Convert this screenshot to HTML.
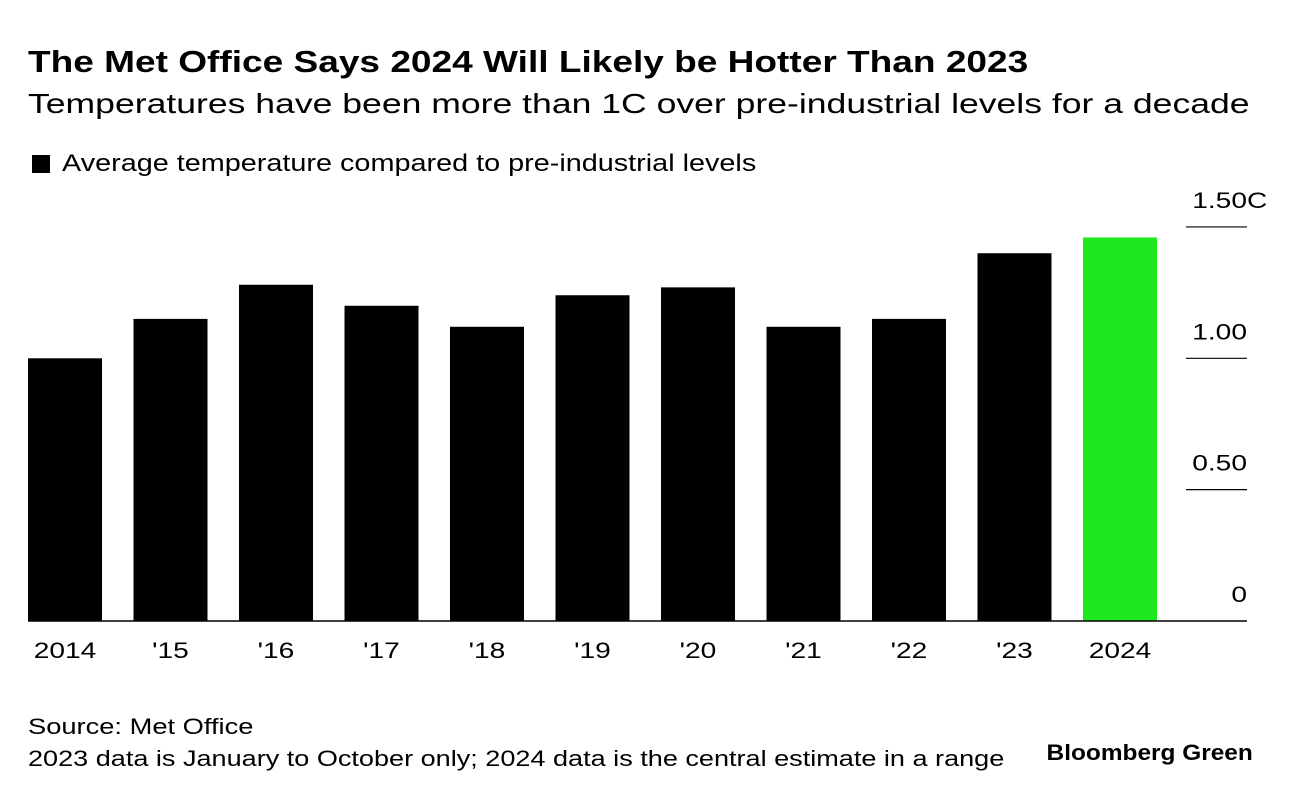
<!DOCTYPE html>
<html><head><meta charset="utf-8"><style>
body{margin:0;width:1296px;height:798px;background:#fff;font-family:"Liberation Sans",sans-serif;color:#000;overflow:hidden;position:relative}
.t{position:absolute;white-space:nowrap;transform-origin:0 0}
</style></head><body>
<div class="t" style="left:28px;top:44px;font-size:31px;font-weight:bold;transform:scaleX(1.195)">The Met Office Says 2024 Will Likely be Hotter Than 2023</div>
<div class="t" style="left:28px;top:88px;font-size:28px;transform:scaleX(1.27)">Temperatures have been more than 1C over pre-industrial levels for a decade</div>
<div style="position:absolute;left:32px;top:155px;width:18px;height:18px;background:#000"></div>
<div class="t" style="left:62px;top:150px;font-size:24px;transform:scaleX(1.2)">Average temperature compared to pre-industrial levels</div>
<svg id="chart" width="1296" height="798" style="position:absolute;left:0;top:0"></svg>
<div class="t" style="left:28px;top:714px;font-size:22px;transform:scaleX(1.24)">Source: Met Office</div>
<div class="t" style="left:28px;top:746px;font-size:22px;transform:scaleX(1.23)">2023 data is January to October only; 2024 data is the central estimate in a range</div>
<div class="t" style="right:43px;top:740px;font-size:22px;font-weight:bold;transform-origin:100% 0;transform:scaleX(1.11)">Bloomberg Green</div>
<script>
const categories=["2014","'15","'16","'17","'18","'19","'20","'21","'22","'23","2024"];
const values=[1.00,1.15,1.28,1.20,1.12,1.24,1.27,1.12,1.15,1.40,1.46];
const tickValues=[0,0.5,1.0,1.5];
const tickLabels=["0","0.50","1.00","1.50"];
const svg=document.getElementById('chart');
const NS='http://www.w3.org/2000/svg';
const y0=621,pxPerUnit=262.7;
function yScale(v){return y0-v*pxPerUnit;}
function xScale(i){return 28+i*105.5;}
const bw=74;
function txt(str,x,y,anchor,sx){
  const g=document.createElementNS(NS,'g');
  g.setAttribute('transform','translate('+x+','+y+') scale('+sx+',1)');
  const t=document.createElementNS(NS,'text');
  t.setAttribute('x',0);t.setAttribute('y',0);
  t.setAttribute('text-anchor',anchor);t.setAttribute('font-size','22');
  t.setAttribute('font-family','Liberation Sans, sans-serif');
  t.textContent=str;
  g.appendChild(t);svg.appendChild(g);
  return t;
}
categories.forEach((c,i)=>{
  const r=document.createElementNS(NS,'rect');
  r.setAttribute('x',xScale(i));r.setAttribute('y',yScale(values[i]));
  r.setAttribute('width',bw);r.setAttribute('height',y0-yScale(values[i]));
  r.setAttribute('fill',i===categories.length-1?'#1ee81e':'#000');
  
  
  svg.appendChild(r);
  const t=txt(c,xScale(i)+bw/2,658,'middle',1.28);
  
  
});
tickValues.forEach((v,i)=>{
  const y=yScale(v);
  const l=document.createElementNS(NS,'line');
  l.setAttribute('x1',v===0?28:1186);l.setAttribute('x2',1247);
  l.setAttribute('y1',y);l.setAttribute('y2',y);
  l.setAttribute('stroke','#000');l.setAttribute('stroke-width',v===0?1.5:1.2);
  
  
  svg.appendChild(l);
  const t=txt(tickLabels[i],1247,y-19,'end',1.28);
  
  
  if(i===tickValues.length-1){
    const u=txt('C',1247,y-19,'start',1.28);
    
    
  }
});
</script>
</body></html>
